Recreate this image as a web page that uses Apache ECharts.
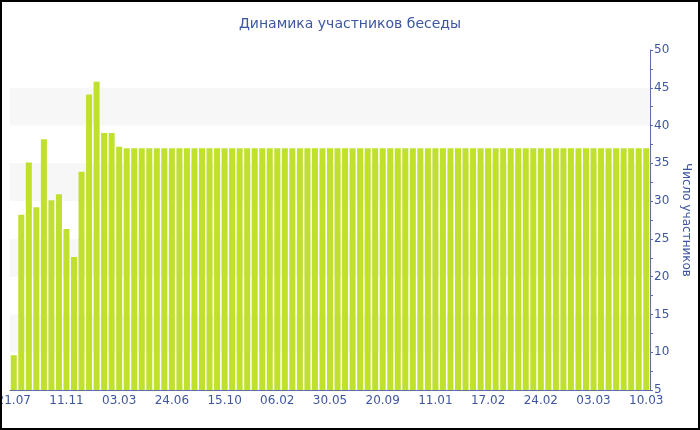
<!DOCTYPE html>
<html><head><meta charset="utf-8">
<script src="https://cdn.jsdelivr.net/npm/echarts@6/dist/echarts.min.js"></script>
<style>html,body{margin:0;padding:0;background:#fff}#c{width:700px;height:430px}</style>
</head><body><div id="c"></div>
<script>
var categories = [
 '21.07','06.08','22.08','07.09','23.09','09.10','25.10',
 '11.11','27.11','13.12','29.12','14.01','30.01','15.02',
 '03.03','19.03','04.04','20.04','06.05','22.05','07.06',
 '24.06','10.07','26.07','11.08','27.08','12.09','28.09',
 '15.10','31.10','16.11','02.12','18.12','03.01','19.01',
 '06.02','22.02','10.03','26.03','11.04','27.04','13.05',
 '30.05','15.06','01.07','17.07','02.08','18.08','03.09',
 '20.09','06.10','22.10','07.11','23.11','09.12','25.12',
 '11.01','16.01','21.01','26.01','31.01','05.02','11.02',
 '17.02','18.02','19.02','20.02','21.02','22.02','23.02',
 '24.02','25.02','26.02','27.02','28.02','01.03','02.03',
 '03.03','04.03','05.03','06.03','07.03','08.03','09.03',
 '10.03'
];
var participants = [
 9.6, 28.2, 35.1, 29.2, 38.2, 30.1, 30.9,
 26.3, 22.6, 33.9, 44.1, 45.8, 39.0, 39.0,
 37.2, 37, 37, 37, 37, 37, 37,
 37, 37, 37, 37, 37, 37, 37,
 37, 37, 37, 37, 37, 37, 37,
 37, 37, 37, 37, 37, 37, 37,
 37, 37, 37, 37, 37, 37, 37,
 37, 37, 37, 37, 37, 37, 37,
 37, 37, 37, 37, 37, 37, 37,
 37, 37, 37, 37, 37, 37, 37,
 37, 37, 37, 37, 37, 37, 37,
 37, 37, 37, 37, 37, 37, 37,
 37
];
var titleText = 'Динамика участников беседы';
var yName = 'Число участников';

var blue = '#3d56a0';
var axisBlue = '#5b6ea6';
var chart = echarts.init(document.getElementById('c'), null, {renderer:'canvas'});
chart.setOption({
  animation: false,
  textStyle: {fontFamily: 'DejaVu Sans'},
  title: {text: titleText, left: 'center', top: 12,
    textStyle: {color: blue, fontSize: 14, fontWeight: 'normal', fontFamily: 'DejaVu Sans'}},
  grid: {left: 10, right: 50, top: 50, bottom: 40, containLabel: false, outerBoundsMode: 'none'},
  graphic: [{type: 'rect', shape: {x: 1, y: 1, width: 698, height: 428},
    style: {fill: 'none', stroke: '#000', lineWidth: 2}, silent: true, z: 100}],
  xAxis: {
    type: 'category', data: categories, boundaryGap: true,
    axisLine: {lineStyle: {color: axisBlue, width: 1}},
    axisTick: {alignWithLabel: true, interval: 6, length: 4, lineStyle: {color: axisBlue}},
    axisLabel: {interval: 6, color: blue, fontSize: 12, margin: 5, fontFamily: 'DejaVu Sans', hideOverlap: false},
    splitLine: {show: false}
  },
  yAxis: {
    type: 'value', position: 'right', min: 5, max: 50, interval: 5,
    name: yName, nameLocation: 'middle', nameGap: 28, nameRotate: -90,
    nameTextStyle: {color: blue, fontSize: 12, fontFamily: 'DejaVu Sans'},
    axisLine: {show: true, lineStyle: {color: axisBlue}},
    axisTick: {show: true, length: 3, lineStyle: {color: axisBlue}},
    minorTick: {show: true, splitNumber: 2, length: 3, lineStyle: {color: axisBlue}},
    axisLabel: {color: blue, fontSize: 12, margin: 4, fontFamily: 'DejaVu Sans'},
    splitLine: {show: false},
    splitArea: {show: true, areaStyle: {color: ['rgba(255,255,255,0)', '#f7f7f7']}}
  },
  series: [{
    type: 'bar', data: participants, barCategoryGap: '20%',
    itemStyle: {color: '#c0e02e'}
  }]
});
</script></body></html>
